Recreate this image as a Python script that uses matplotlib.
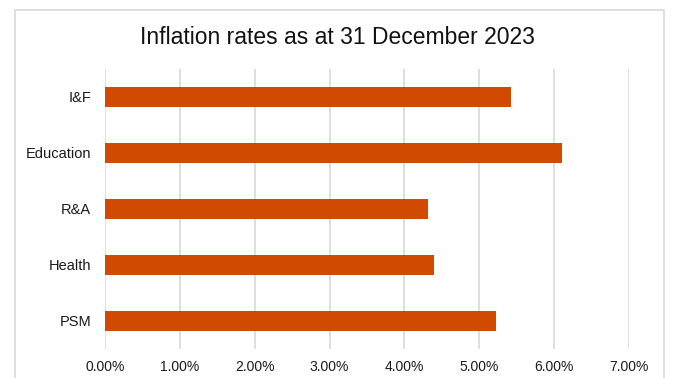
import matplotlib.pyplot as plt
from matplotlib.patches import Rectangle
from matplotlib.ticker import PercentFormatter

# data, top to bottom as shown
categories = ['I&F', 'Education', 'R&A', 'Health', 'PSM']
rates = [5.43, 6.11, 4.31, 4.40, 5.22]
xticks = [0, 1, 2, 3, 4, 5, 6, 7]

plt.rcParams['font.family'] = ['Liberation Sans', 'DejaVu Sans']

fig = plt.figure(figsize=(6.75, 3.78), dpi=100)
ax = fig.add_axes([105 / 675, 29 / 378, 524 / 675, 280 / 378])

# light frame around the chart
fig.patches.append(Rectangle((15 / 675, -0.05), 649 / 675, 1.0 - 10 / 378 + 0.05,
                             transform=fig.transFigure, fill=False,
                             edgecolor='#d9d9d9', linewidth=1.2))

ypos = list(range(len(categories)))
ax.barh(ypos, rates, height=0.35, color='#D04A02', zorder=3)
ax.set_yticks(ypos)
ax.set_yticklabels(categories)
ax.set_ylim(len(categories) - 0.5, -0.5)

ax.set_xlim(0, 7)
ax.set_xticks(xticks)
ax.xaxis.set_major_formatter(PercentFormatter(decimals=2))
ax.grid(axis='x', color='#d9d9d9', linewidth=1.2, zorder=0)
ax.set_axisbelow(True)

for s in ax.spines.values():
    s.set_visible(False)
ax.tick_params(axis='y', length=0, pad=10, labelsize=10.5, labelcolor='#1a1a1a')
ax.tick_params(axis='x', length=0, pad=8, labelsize=10, labelcolor='#1a1a1a')

fig.text(0.5, 1 - 38 / 378, 'Inflation rates as at 31 December 2023',
         ha='center', va='center', fontsize=16.5, color='#111111')

fig.savefig('out.png', dpi=100)
